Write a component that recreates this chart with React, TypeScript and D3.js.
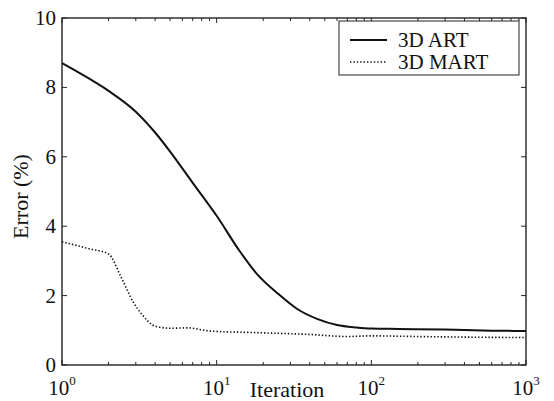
import React from 'react';
import * as d3 from 'd3';

// iterations / error (%)
const artIter = [1, 1.5, 2, 3, 4, 5, 7, 10, 14, 18, 25, 33, 45, 60, 80, 100, 150, 300, 600, 1000];
const artErr = [8.7, 8.25, 7.9, 7.3, 6.7, 6.15, 5.25, 4.3, 3.3, 2.65, 2.05, 1.62, 1.32, 1.15, 1.08, 1.05, 1.04, 1.02, 0.99, 0.98];

const martIter = [1, 1.5, 2, 2.4, 2.9, 3.3, 4, 5, 6.5, 9, 19, 40, 70, 100, 200, 500, 1000];
const martErr = [3.55, 3.35, 3.2, 2.55, 1.8, 1.45, 1.12, 1.06, 1.07, 0.98, 0.93, 0.88, 0.82, 0.84, 0.82, 0.8, 0.79];

const yTicks = [0, 2, 4, 6, 8, 10];
const xDecades = [0, 1, 2, 3];
const seriesNames = ['3D ART', '3D MART'];

const W = 554;
const H = 401;
const m = { left: 62, right: 28, top: 18, bottom: 36 };
const font = 'Liberation Serif, Times New Roman, Times, DejaVu Serif, serif';

export default function App() {
  const x = d3.scaleLog().domain([1, 1000]).range([m.left, W - m.right]);
  const y = d3.scaleLinear().domain([0, 10]).range([H - m.bottom, m.top]);

  const line = d3
    .line<[number, number]>()
    .x((d) => x(d[0]))
    .y((d) => y(d[1]))
    .curve(d3.curveMonotoneX);

  const art = artIter.map((v, i) => [v, artErr[i]] as [number, number]);
  const mart = martIter.map((v, i) => [v, martErr[i]] as [number, number]);

  const x0 = m.left;
  const x1 = W - m.right;
  const y0 = H - m.bottom;
  const y1 = m.top;

  const xt = x.ticks();

  return (
    <svg width={W} height={H} style={{ position: 'absolute', left: 0, top: 0, background: '#fff' }}>
      <g fontFamily={font} fill="#111">
        {/* y tick labels */}
        {yTicks.map((t) => (
          <text key={'yl' + t} x={x0 - 6} y={y(t) + 7} textAnchor="end" fontSize={21}>
            {t}
          </text>
        ))}

        {/* x tick labels 10^n */}
        {xDecades.map((p) => (
          <text key={'xl' + p} x={x(Math.pow(10, p))} y={y0 + 30} textAnchor="middle" fontSize={21}>
            10
            <tspan dy={-10} fontSize={13}>
              {p}
            </tspan>
          </text>
        ))}

        {/* axis titles */}
        <text x={287} y={y0 + 32} textAnchor="middle" fontSize={22}>
          Iteration
        </text>
        <text transform={`translate(28, ${(y0 + y1) / 2 + 5}) rotate(-90)`} textAnchor="middle" fontSize={22}>
          Error (%)
        </text>
      </g>

      {/* frame */}
      <rect x={x0} y={y1} width={x1 - x0} height={y0 - y1} fill="none" stroke="#111" strokeWidth={1.3} />

      {/* x ticks, bottom and top */}
      {xt.map((t, i) => {
        const major = Math.abs(Math.log10(t) - Math.round(Math.log10(t))) < 1e-9;
        const len = major ? 5 : 3;
        return (
          <g key={'xt' + i} stroke="#222" strokeWidth={1}>
            <line x1={x(t)} x2={x(t)} y1={y0} y2={y0 - len} />
            <line x1={x(t)} x2={x(t)} y1={y1} y2={y1 + len} />
          </g>
        );
      })}

      {/* y ticks, left and right */}
      {yTicks.map((t) => (
        <g key={'yt' + t} stroke="#222" strokeWidth={1}>
          <line x1={x0} x2={x0 + 5} y1={y(t)} y2={y(t)} />
          <line x1={x1} x2={x1 - 5} y1={y(t)} y2={y(t)} />
        </g>
      ))}

      {/* curves */}
      <path d={line(art) || ''} fill="none" stroke="#111" strokeWidth={2} />
      <path d={line(mart) || ''} fill="none" stroke="#111" strokeWidth={1.6} strokeDasharray="1.4,2" />

      {/* legend */}
      <g>
        <rect x={339} y={21} width={180} height={54} fill="#fff" stroke="#222" strokeWidth={1} />
        <line x1={350} x2={387} y1={40} y2={40} stroke="#111" strokeWidth={2} />
        <line x1={350} x2={387} y1={62} y2={62} stroke="#111" strokeWidth={1.6} strokeDasharray="1.4,2" />
        {seriesNames.map((n, i) => (
          <text key={n} x={398} y={47 + i * 22} fontSize={21} fontFamily={font} fill="#111">
            {n}
          </text>
        ))}
      </g>
    </svg>
  );
}
